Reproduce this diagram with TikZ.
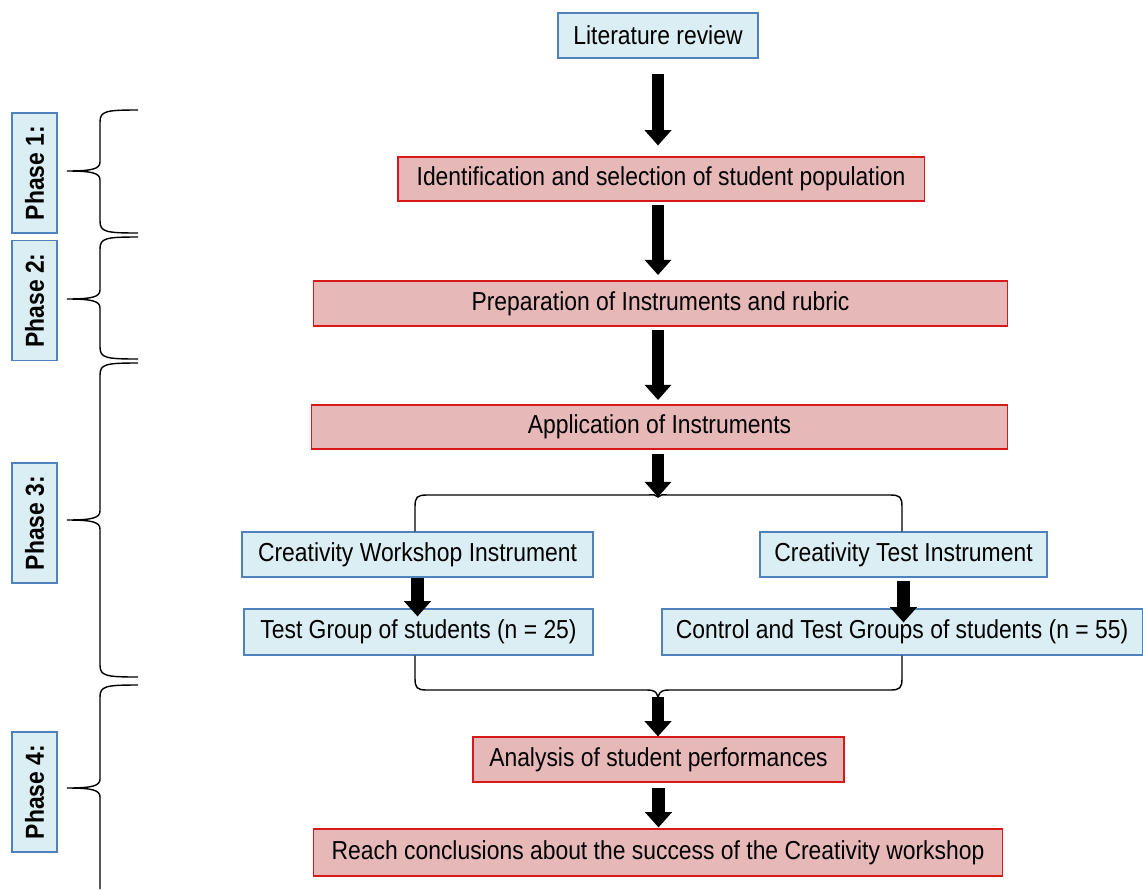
\documentclass[tikz,border=0pt]{standalone}
\usepackage{fontspec}
\setmainfont{Liberation Sans}[FakeStretch=0.88,BoldFont={Liberation Sans Bold}]
\usepackage{xcolor}
\usepackage{tikz}
\usetikzlibrary{shapes.geometric, arrows.meta}
\definecolor{boxblue}{RGB}{219,238,244}
\definecolor{lineblue}{RGB}{79,129,189}
\definecolor{boxpink}{RGB}{230,185,184}
\definecolor{linered}{RGB}{215,25,25}
\tikzstyle{bluebox} = [draw=lineblue,fill=boxblue,line width=0.8pt,inner sep=2pt]
\tikzstyle{redbox} = [draw=linered,fill=boxpink,line width=0.8pt,inner sep=2pt]
\tikzstyle{phasebox} = [bluebox,rotate=90,font=\fontsize{18.5}{21}\selectfont\bfseries,minimum width=3cm,minimum height=1.125cm]
\tikzstyle{fatarrow} = [line width=0.32cm,-{Triangle[width=0.65cm,length=0.38cm]}]
\tikzstyle{bracket} = [line width=1pt]

\begin{document}
\begin{tikzpicture}[x=0.025cm,y=-0.025cm,font=\fontsize{18.5}{21}\selectfont]
			\useasboundingbox (0,0) rectangle (1143,889);
			
			% Boxes:
			\node[bluebox,minimum width=5cm,minimum height=1.125cm] (lit) at (658,35.5) {Literature review};
			\node[redbox,minimum width=13.15cm,minimum height=1.1cm] (ident) at (661,179) {Identification and selection of student population};
			\node[redbox,minimum width=17.325cm,minimum height=1.125cm] (prep) at (660.5,303.5) {Preparation of Instruments and rubric};
			\node[redbox,minimum width=17.375cm,minimum height=1.1cm] (appl) at (659.5,427) {Application of Instruments};
			\node[bluebox,minimum width=8.775cm,minimum height=1.125cm] (cwi) at (417.5,554.5) {Creativity Workshop Instrument};
			\node[bluebox,minimum width=7.175cm,minimum height=1.125cm] (cti) at (903.5,554.5) {Creativity Test Instrument};
			\node[bluebox,minimum width=8.725cm,minimum height=1.15cm] (tg) at (418.5,632) {Test Group of students (n = 25)};
			\node[bluebox,minimum width=12cm,minimum height=1.15cm] (ctg) at (902,632) {Control and Test Groups of students (n = 55)};
			\node[redbox,minimum width=9.275cm,minimum height=1.125cm] (anal) at (658.5,759.5) {Analysis of student performances};
			\node[redbox,minimum width=17.2cm,minimum height=1.175cm] (concl) at (658,852.5) {Reach conclusions about the success of the Creativity workshop};
			
			% Phases:
			\node[phasebox] (ph1) at (34.5,173) {Phase 1:};
			\node[phasebox] (ph2) at (34.5,300.5) {Phase 2:};
			\node[phasebox] (ph3) at (34.5,523) {Phase 3:};
			\node[phasebox] (ph4) at (34.5,792) {Phase 4:};
			
			% Braces of the phases:
			\foreach \top/\mid/\bot in {110/171/233, 237/299/359, 363/520/677}
			{
				\draw[bracket] (138,\top) .. controls (106,\top) and (100,\top+1) .. (100,\top+12) -- (100,\mid-9) .. controls (100,\mid-2) and (92,\mid) .. (67,\mid) .. controls (92,\mid) and (100,\mid+2) .. (100,\mid+9) -- (100,\bot-12) .. controls (100,\bot-1) and (106,\bot) .. (138,\bot);
			}
			\draw[bracket] (138,685) .. controls (106,685) and (100,686) .. (100,697) -- (100,779) .. controls (100,786) and (92,788) .. (67,788) .. controls (92,788) and (100,790) .. (100,797) -- (100,889);
			
			% Branching:
			\coordinate (split) at (658,497);
			\coordinate (join) at (658,697);
			\draw[bracket] (cwi.north -| 415,0) -- (415,507) .. controls (415,497) and (417,495) .. (427,495) -- (646,495) .. controls (654,495) and (656,494) .. (split) .. controls (660,494) and (662,495) .. (670,495) -- (890,495) .. controls (900,495) and (902,497) .. (902,507) -- (cti.north -| 902,0);
			\draw[bracket] (tg.south -| 415,0) -- (415,678) .. controls (415,688) and (417,690) .. (427,690) -- (646,690) .. controls (654,690) and (656,691) .. (join) .. controls (660,691) and (662,690) .. (670,690) -- (890,690) .. controls (900,690) and (902,688) .. (902,678) -- (ctg.south);
			
			% Arrows:
			\draw[fatarrow,shorten <=0.375cm,shorten >=0.275cm] (lit.south) -- (lit.south |- ident.north);
			\draw[fatarrow,shorten <=0.1cm,shorten >=0.15cm] (658,201) -- (658,281);
			\draw[fatarrow,shorten <=0.1cm,shorten >=0.125cm] (658,326) -- (658,405);
			\draw[fatarrow,shorten <=0.1cm] (appl.south -| split) -- (split);
			\draw[fatarrow] (cwi.south) -- ([yshift=-0.2cm]cwi.south |- tg.north);
			\draw[fatarrow,shorten <=0.075cm] (cti.south) -- ([yshift=-0.35cm]cti.south |- ctg.north);
			\draw[fatarrow] (join) -- (join |- anal.north);
			\draw[fatarrow,shorten <=0.125cm,shorten >=0.025cm] (anal.south) -- (anal.south |- concl.north);
			
\end{tikzpicture}
\end{document}
